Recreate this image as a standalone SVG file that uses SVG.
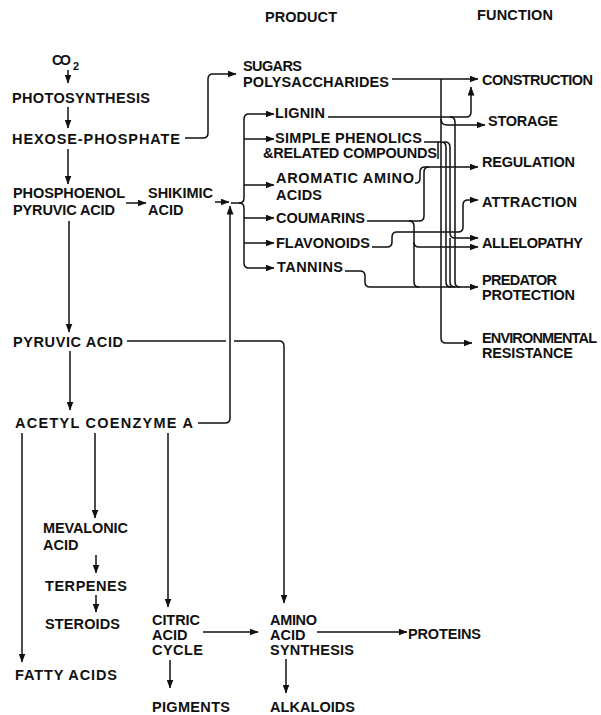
<svg xmlns="http://www.w3.org/2000/svg" width="601" height="715" viewBox="0 0 601 715">
<style>
.t{font-family:"Liberation Sans",Arial,sans-serif;font-size:14.5px;font-weight:bold;fill:#111}
.c{fill:none;stroke:#111;stroke-width:1.5}
.a{marker-end:url(#ah)}
</style>
<defs>
<marker id="ah" viewBox="0 0 9 7" refX="8.5" refY="3.5" markerWidth="9" markerHeight="7" markerUnits="userSpaceOnUse" orient="auto"><path d="M0,0 L9,3.5 L0,7 z" fill="#111"/></marker>
</defs>
<rect width="601" height="715" fill="#fff"/>

<g id="headers">
<text class="t" x="265" y="22" textLength="72">PRODUCT</text>
<text class="t" x="477" y="20" textLength="76">FUNCTION</text>
</g>

<g id="co2"><text class="t" x="52" y="65" style="font-size:14px" textLength="19">CO</text><text class="t" x="73" y="70" style="font-size:11px">2</text></g>
<g id="photosynthesis"><text class="t" x="12" y="103" textLength="138">PHOTOSYNTHESIS</text></g>
<g id="hexose"><text class="t" x="12" y="144" textLength="168">HEXOSE-PHOSPHATE</text></g>
<g id="pep"><text class="t" x="13" y="198" textLength="112">PHOSPHOENOL</text><text class="t" x="13" y="215" textLength="102">PYRUVIC ACID</text></g>
<g id="shikimic"><text class="t" x="148" y="198" textLength="65">SHIKIMIC</text><text class="t" x="148" y="215">ACID</text></g>
<g id="sugars"><text class="t" x="243" y="71" textLength="59">SUGARS</text><text class="t" x="243" y="87" textLength="146">POLYSACCHARIDES</text></g>
<g id="lignin"><text class="t" x="275" y="118" textLength="50">LIGNIN</text></g>
<g id="phenolics"><text class="t" x="275" y="143" textLength="147">SIMPLE PHENOLICS</text><text class="t" x="263" y="158" textLength="174">&amp;RELATED COMPOUNDS</text></g>
<g id="aromatic"><text class="t" x="276" y="183" textLength="138">AROMATIC AMINO</text><text class="t" x="276" y="200" textLength="46">ACIDS</text></g>
<g id="coumarins"><text class="t" x="276" y="223" textLength="89">COUMARINS</text></g>
<g id="flavonoids"><text class="t" x="276" y="248" textLength="94">FLAVONOIDS</text></g>
<g id="tannins"><text class="t" x="277" y="272" textLength="66">TANNINS</text></g>

<g id="construction"><text class="t" x="482" y="85" textLength="111">CONSTRUCTION</text></g>
<g id="storage"><text class="t" x="488" y="126" textLength="70">STORAGE</text></g>
<g id="regulation"><text class="t" x="482" y="167" textLength="93">REGULATION</text></g>
<g id="attraction"><text class="t" x="482" y="207" textLength="95">ATTRACTION</text></g>
<g id="allelopathy"><text class="t" x="482" y="248" textLength="101">ALLELOPATHY</text></g>
<g id="predator"><text class="t" x="482" y="285" textLength="75">PREDATOR</text><text class="t" x="482" y="300" textLength="93">PROTECTION</text></g>
<g id="environmental"><text class="t" x="482" y="343" textLength="115">ENVIRONMENTAL</text><text class="t" x="482" y="358" textLength="91">RESISTANCE</text></g>

<g id="pyruvic"><text class="t" x="13" y="347" textLength="110">PYRUVIC ACID</text></g>
<g id="acetyl"><text class="t" x="15" y="428" textLength="178">ACETYL COENZYME A</text></g>
<g id="mevalonic"><text class="t" x="43" y="533" textLength="85">MEVALONIC</text><text class="t" x="43" y="550">ACID</text></g>
<g id="terpenes"><text class="t" x="45" y="591" textLength="82">TERPENES</text></g>
<g id="steroids"><text class="t" x="45" y="629" textLength="75">STEROIDS</text></g>
<g id="citric"><text class="t" x="152" y="625" textLength="48">CITRIC</text><text class="t" x="152" y="640">ACID</text><text class="t" x="152" y="655" textLength="51">CYCLE</text></g>
<g id="fatty"><text class="t" x="15" y="680" textLength="102">FATTY ACIDS</text></g>
<g id="pigments"><text class="t" x="152" y="712" textLength="78">PIGMENTS</text></g>
<g id="amino"><text class="t" x="270" y="625" textLength="47">AMINO</text><text class="t" x="270" y="640">ACID</text><text class="t" x="270" y="655" textLength="84">SYNTHESIS</text></g>
<g id="proteins"><text class="t" x="408" y="639" textLength="73">PROTEINS</text></g>
<g id="alkaloids"><text class="t" x="270" y="712" textLength="85">ALKALOIDS</text></g>

<g id="connectors">
<path class="c a" d="M68 70 V83"/>
<path class="c a" d="M68 107 V128"/>
<path class="c a" d="M68 149 V184"/>
<path class="c a" d="M185 138 H203 Q208 138 208 133 V79 Q208 74 213 74 H236"/>
<path class="c a" d="M126 203 H146"/>
<path class="c a" d="M215 202 H229"/>
<path class="c a" d="M69 221 V332"/>
<path class="c a" d="M70 351 V410"/>
<path class="c a" d="M231 203 H239 Q244 203 244 198 V119 Q244 114 249 114 H274"/>
<path class="c a" d="M239 203 Q244 203 244 208 V263 Q244 268 249 268 H274"/>
<path class="c a" d="M244 139 H274"/>
<path class="c a" d="M244 185 H274"/>
<path class="c a" d="M244 218 H274"/>
<path class="c a" d="M244 243 H274"/>
<path class="c a" d="M198 423 H225 Q230 423 230 418 V206"/>
<path class="c" d="M127 341 H226"/>
<path class="c a" d="M234 341 H279 Q284 341 284 346 V603"/>
<path class="c a" d="M22 433 V662"/>
<path class="c a" d="M95 433 V518"/>
<path class="c a" d="M168 433 V607"/>
<path class="c a" d="M96 555 V573"/>
<path class="c a" d="M96 595 V612"/>
<path class="c a" d="M203 632 H258"/>
<path class="c a" d="M170 660 V688"/>
<path class="c a" d="M317 632 H407"/>
<path class="c a" d="M286 659 V693"/>
<path class="c a" d="M392 79 H478"/>
<path class="c a" d="M441 79 V338 Q441 343 446 343 H472"/>
<path class="c a" d="M441 119 Q441 125 447 125 H485"/>
<path class="c a" d="M328 117 H466 Q471 117 471 112 V87"/>
<path class="c" d="M450 117 Q455 117 455 122 V282 Q455 287 460 287"/>
<path class="c" d="M424 142 H438 V159"/>
<path class="c" d="M438 142 H441 Q446 142 446 147 V282 Q446 287 451 287"/>
<path class="c a" d="M444 142 H445 Q450 142 450 147 V233 Q450 238 455 238 H478"/>
<path class="c" d="M450 238 V282 Q450 287 455 287"/>
<path class="c a" d="M415 183 H416 Q420 183 420 178 V172 Q420 167 425 167 H478"/>
<path class="c" d="M367 221 H419 Q424 221 424 216 V172 Q424 167 429 167"/>
<path class="c" d="M409 221 Q414 221 414 226 V282 Q414 287 419 287"/>
<path class="c a" d="M414 242 Q414 247 419 247 H478"/>
<path class="c a" d="M372 247 H387 Q392 247 392 242 V237 Q392 232 397 232 H458 Q463 232 463 227 V205 Q463 200 468 200 H478"/>
<path class="c a" d="M345 271 H360 Q365 271 365 276 V282 Q365 287 370 287 H478"/>
</g>
</svg>
